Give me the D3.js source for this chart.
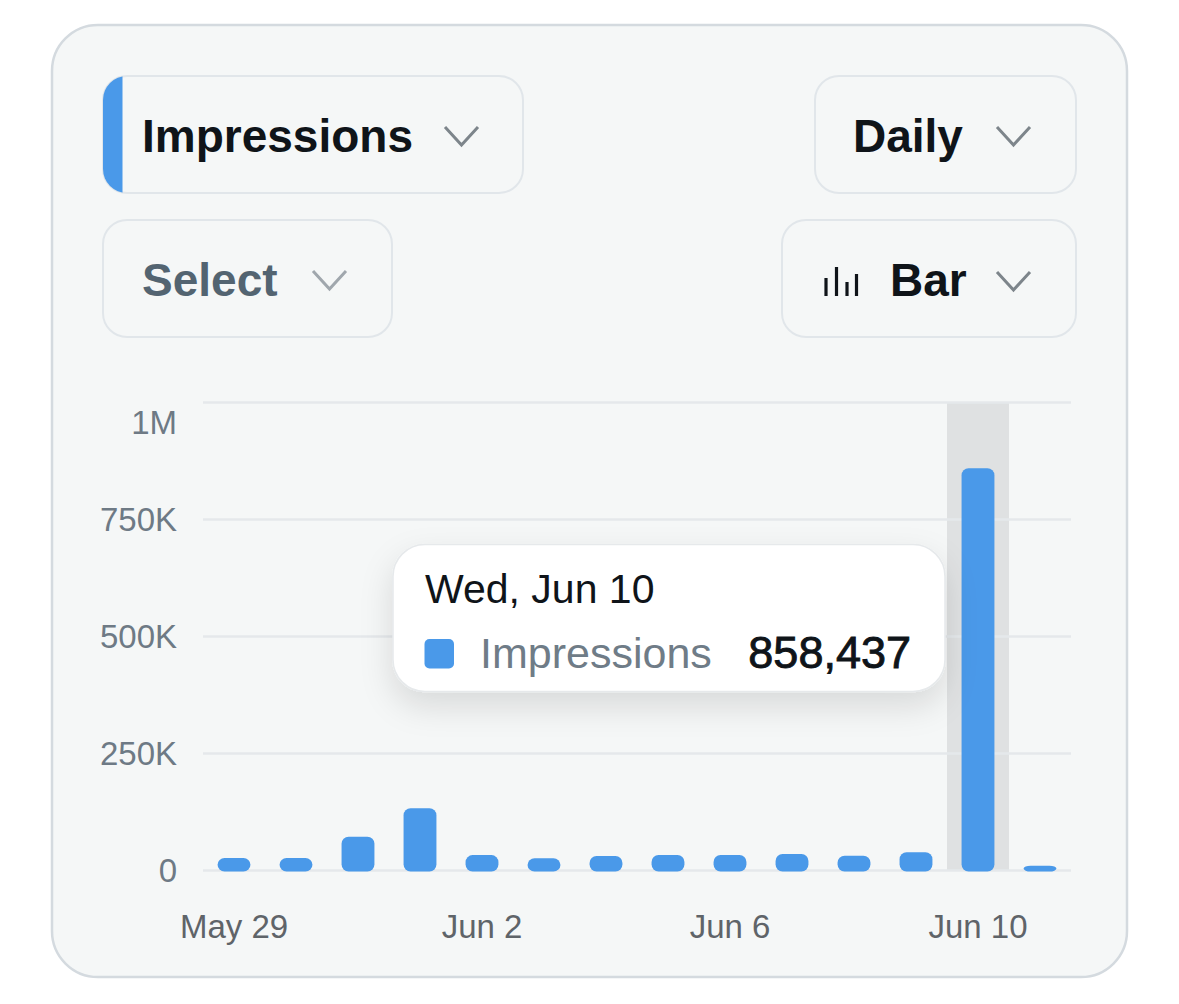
<!DOCTYPE html>
<html>
<head>
<meta charset="utf-8">
<title>Impressions - Daily</title>
<script src="https://d3js.org/d3.v7.min.js"></script>
<style>
  body { margin: 0; background: #ffffff; }
  svg { display: block; font-family: "Liberation Sans", Arial, sans-serif; }
</style>
</head>
<body>
<svg id="chart"></svg>
<script>
// data
var days = ["2026-05-29", "2026-05-30", "2026-05-31", "2026-06-01", "2026-06-02",
            "2026-06-03", "2026-06-04", "2026-06-05", "2026-06-06", "2026-06-07",
            "2026-06-08", "2026-06-09", "2026-06-10", "2026-06-11"]
var impressions = [25600, 25400, 71200, 131800, 31800, 24900, 29800,
                   32100, 32300, 34100, 30400, 37900, 858437, 9200]
var yTicks = [0, 250000, 500000, 750000, 1000000]
var yTickLabels = ["0", "250K", "500K", "750K", "1M"]
var xTickDays = ["2026-05-29", "2026-06-02", "2026-06-06", "2026-06-10"]
var hoverDay = "2026-06-10"

var width = 1179
var height = 1004

var blue = "#4a99e9"

var svg = d3.select("#chart")
  .attr("width", width)
  .attr("height", height)

var defs = svg.append("defs")

var shadow = defs.append("filter")
  .attr("id", "tipShadow")
  .attr("x", "-20%").attr("y", "-30%")
  .attr("width", "140%").attr("height", "170%")
shadow.append("feDropShadow")
  .attr("dx", 0).attr("dy", 14)
  .attr("stdDeviation", 16)
  .attr("flood-color", "#000")
  .attr("flood-opacity", 0.12)

// card
svg.append("rect")
  .attr("x", 52).attr("y", 25)
  .attr("width", 1075).attr("height", 952)
  .attr("rx", 46)
  .attr("fill", "#f5f7f7")
  .attr("stroke", "#d4dadf")
  .attr("stroke-width", 2.5)

// dropdown buttons
function chevron(g, x, y, color) {
  g.append("polyline")
    .attr("points", [[x, y], [x + 16.5, y + 18], [x + 33, y]].join(" "))
    .attr("fill", "none")
    .attr("stroke", color)
    .attr("stroke-width", 3)
}

function button(x, y, w, h) {
  var g = svg.append("g")
  g.append("rect")
    .attr("x", x).attr("y", y)
    .attr("width", w).attr("height", h)
    .attr("rx", 24)
    .attr("fill", "#f5f7f7")
    .attr("stroke", "#e1e6ea")
    .attr("stroke-width", 2)
  return g
}

// Impressions (with blue accent stripe)
defs.append("clipPath").attr("id", "impClip")
  .append("rect")
  .attr("x", 103).attr("y", 76)
  .attr("width", 420).attr("height", 117)
  .attr("rx", 24)

var b1 = button(103, 76, 420, 117)
b1.append("rect")
  .attr("clip-path", "url(#impClip)")
  .attr("x", 103).attr("y", 76)
  .attr("width", 19.5).attr("height", 117)
  .attr("fill", blue)
b1.append("text")
  .attr("x", 142).attr("y", 152)
  .attr("font-size", 46).attr("font-weight", 700)
  .attr("fill", "#0f1419")
  .text("Impressions")
chevron(b1, 445, 127, "#7d858b")

var b2 = button(103, 220, 289, 117)
b2.append("text")
  .attr("x", 142).attr("y", 296)
  .attr("font-size", 46).attr("font-weight", 700)
  .attr("fill", "#536471")
  .text("Select")
chevron(b2, 313, 271, "#a0a7ad")

var b3 = button(815, 76, 261, 117)
b3.append("text")
  .attr("x", 853).attr("y", 152)
  .attr("font-size", 46).attr("font-weight", 700)
  .attr("fill", "#0f1419")
  .text("Daily")
chevron(b3, 997, 127, "#7d858b")

var b4 = button(782, 220, 294, 117)
var iconBars = [[826, 278], [836.5, 267], [847, 282], [856.5, 274]]
iconBars.forEach(function (p) {
  b4.append("line")
    .attr("x1", p[0]).attr("x2", p[0])
    .attr("y1", p[1]).attr("y2", 296)
    .attr("stroke", "#0f1419")
    .attr("stroke-width", 3.2)
})
b4.append("text")
  .attr("x", 890).attr("y", 296)
  .attr("font-size", 46).attr("font-weight", 700)
  .attr("fill", "#0f1419")
  .text("Bar")
chevron(b4, 997, 272, "#7d858b")

// chart scales
var parse = d3.timeParse("%Y-%m-%d")
var data = days.map(function (d, i) {
  return { day: d, date: parse(d), value: impressions[i] }
})

var x = d3.scaleBand()
  .domain(days)
  .range([203, 1071])
  .paddingInner(0.47)
  .paddingOuter(0.235)

var y = d3.scaleLinear()
  .domain([0, 1000000])
  .range([870, 402])

// hover band
svg.append("rect")
  .attr("x", x(hoverDay) + x.bandwidth() / 2 - x.step() / 2)
  .attr("y", y(1000000))
  .attr("width", x.step())
  .attr("height", y(0) - y(1000000))
  .attr("fill", "#dfe1e2")

// y axis + grid
var yAxis = d3.axisLeft(y)
  .tickValues(yTicks)
  .tickFormat(function (d, i) { return yTickLabels[i] })
  .tickSize(-868)
  .tickPadding(26)

var gy = svg.append("g")
  .attr("transform", "translate(203,0)")
  .call(yAxis)
gy.select(".domain").remove()
gy.selectAll(".tick line")
  .attr("stroke", "#e5e8eb")
  .attr("stroke-width", 2.5)
gy.selectAll(".tick text")
  .attr("font-family", "Liberation Sans, Arial, sans-serif")
  .attr("font-size", 33)
  .attr("fill", "#6e7a85")
  .attr("dy", function (d) { return d === 1000000 ? "0.95em" : "0.35em" })

// bars
svg.append("g")
  .selectAll("rect")
  .data(data)
  .enter().append("rect")
  .attr("x", function (d) { return x(d.day) })
  .attr("y", function (d) { return y(d.value) })
  .attr("width", x.bandwidth())
  .attr("height", function (d) { return y(0) - y(d.value) + 1.5 })
  .attr("rx", 7)
  .attr("fill", blue)

// x axis labels
var xAxis = d3.axisBottom(x)
  .tickValues(xTickDays)
  .tickFormat(function (d) { return d3.timeFormat("%b %-d")(parse(d)) })
  .tickSize(0)

var gx = svg.append("g")
  .attr("transform", "translate(0," + y(0) + ")")
  .call(xAxis)
gx.select(".domain").remove()
gx.selectAll(".tick text")
  .attr("font-family", "Liberation Sans, Arial, sans-serif")
  .attr("font-size", 33)
  .attr("fill", "#5f6469")
  .attr("y", 68)
  .attr("dy", 0)

// tooltip
var hovered = data.filter(function (d) { return d.day === hoverDay })[0]
var tip = svg.append("g")
tip.append("rect")
  .attr("x", 393).attr("y", 544.5)
  .attr("width", 552).attr("height", 147)
  .attr("rx", 32)
  .attr("fill", "#ffffff")
  .attr("stroke", "#e6e9eb")
  .attr("stroke-width", 1.5)
  .attr("filter", "url(#tipShadow)")
tip.append("text")
  .attr("x", 425).attr("y", 603)
  .attr("font-size", 41)
  .attr("fill", "#0f1419")
  .text(d3.timeFormat("%a, %b %-d")(hovered.date))
tip.append("rect")
  .attr("x", 424.5).attr("y", 639)
  .attr("width", 29.5).attr("height", 29.5)
  .attr("rx", 5)
  .attr("fill", blue)
tip.append("text")
  .attr("x", 480).attr("y", 668)
  .attr("font-size", 43)
  .attr("fill", "#6f7c87")
  .text("Impressions")
tip.append("text")
  .attr("x", 911).attr("y", 668)
  .attr("text-anchor", "end")
  .attr("font-size", 45)
  .attr("fill", "#0f1419")
  .attr("stroke", "#0f1419")
  .attr("stroke-width", 0.9)
  .text(d3.format(",")(hovered.value))
</script>
</body>
</html>
